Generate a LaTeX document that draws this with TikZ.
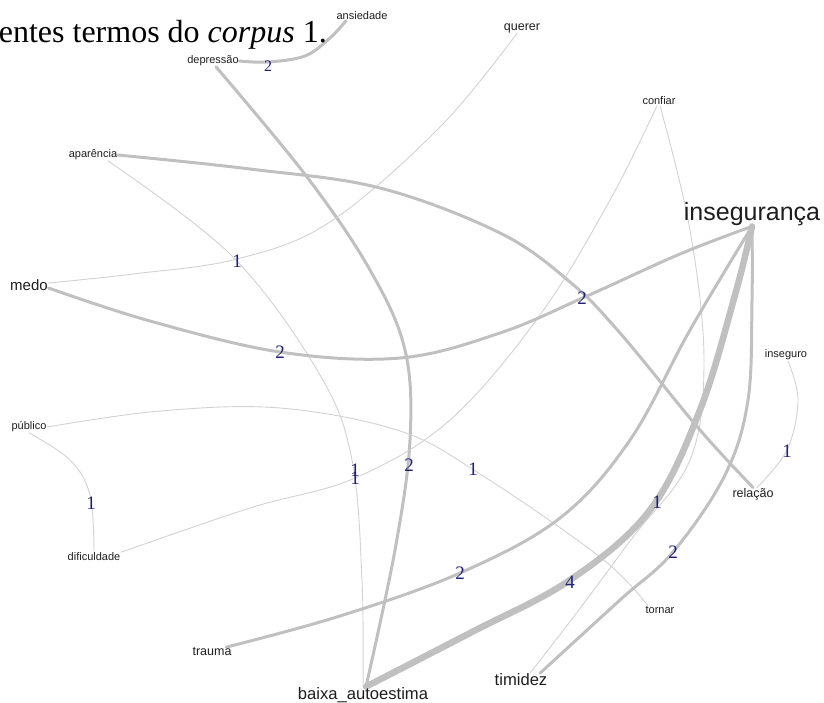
\documentclass[tikz,border=0pt]{standalone}
\usepackage{fontspec}
\setmainfont{Liberation Serif}
\newfontfamily\labf{Liberation Sans}
\newfontfamily\numf{Liberation Serif}
\usetikzlibrary{backgrounds}
\definecolor{navy}{RGB}{32,32,120}
\definecolor{edgethin}{RGB}{210,210,210}
\definecolor{edgethick}{RGB}{192,192,192}
\definecolor{labtext}{RGB}{30,30,30}
\tikzset{
  lbl/.style={font=\labf\fontsize{11}{12}\selectfont, text=labtext, inner sep=0.5pt},
  lblq/.style={font=\labf\fontsize{12.5}{13}\selectfont, text=labtext, inner sep=0.5pt},
  lblm/.style={font=\labf\fontsize{15}{16}\selectfont, text=labtext, inner sep=0.5pt},
  lblb/.style={font=\labf\fontsize{16.6}{17}\selectfont, text=labtext, inner sep=0.5pt},
  lblL/.style={font=\labf\fontsize{25}{26}\selectfont, text=labtext, inner sep=0.5pt},
  num/.style={font=\numf\fontsize{19}{19}\selectfont, text=navy, inner sep=0pt},
  nums/.style={font=\numf\fontsize{16}{16}\selectfont, text=navy, inner sep=0pt},
  wone/.style={draw=edgethin, line width=0.9pt, line cap=round},
  wtwo/.style={draw=edgethick, line width=3pt, line cap=round},
  wfour/.style={draw=edgethick, line width=6.5pt, line cap=round},
  sm/.style={smooth, tension=0.6},
}
\begin{document}
\begin{tikzpicture}[x=1pt,y=-1pt]
\useasboundingbox (0,0) rectangle (824,703);
% title
\node[anchor=base east, font=\fontsize{32}{33}\selectfont, inner sep=0pt] (title) at (327,43) {entes termos do \textit{corpus} 1.};
% nodes
\node[lbl]  (ans)  at (362,16)  {ansiedade};
\node[lbl]  (dep)  at (213,61)  {depressão};
\node[lblq] (que)  at (522,28)  {querer};
\node[lbl]  (conf) at (659,101) {confiar};
\node[lbl]  (apar) at (93,155)  {aparência};
\node[lblL] (ins)  at (752,214) {insegurança};
\node[lblm] (medo) at (29,285)  {medo};
\node[lbl]  (isg)  at (786,355) {inseguro};
\node[lbl]  (pub)  at (29,427)  {público};
\node[lblq] (rel)  at (753,494) {relação};
\node[lbl]  (dif)  at (94,557)  {dificuldade};
\node[lbl]  (torn) at (660,610) {tornar};
\node[lblq] (trau) at (212,652) {trauma};
\node[lblb] (tim)  at (521,680) {timidez};
\node[lblb] (baixa) at (363,695) {baixa\_autoestima};
% edges
\begin{scope}[on background layer]
\draw[wtwo] plot[sm] coordinates {(dep.east) (268,62) (305,56) (330,38) ([xshift=10pt]ans.south west)};
\draw[wtwo] plot[sm] coordinates {([xshift=3pt]dep.south) (307,177) (370,270) (405,350) (410,440) (395,550) ([xshift=3pt]baixa.north)};
\draw[wone] plot[sm] coordinates {([xshift=-5pt]que.south) (440,127) (330,222) (237,259) (133,274) ([yshift=2pt]medo.east)};
\draw[wone] plot[sm] coordinates {([xshift=-10pt]apar.south east) (233,257) (320,375) (352,460) (362,580) (baixa.north)};
\draw[wone] plot[sm] coordinates {([xshift=-2pt]conf.south) (610,200) (540,315) (450,420) (355,478) (250,508) (dif.north east)};
\draw[wone] plot[sm] coordinates {([xshift=1pt]conf.south) (690,230) (704,360) (690,460) (633,537) (575,615) ([xshift=-18pt]tim.north east)};
\draw[wtwo] plot[sm] coordinates {([yshift=-3pt]medo.east) (150,321) (280,352) (400,358) (500,333) (587,296) (680,254) (ins.south)};
\draw[wtwo] plot[sm] coordinates {(apar.east) (250,169) (380,188) (500,233) (570,282) (620,333) (700,430) (rel.north)};
\draw[wone] plot[sm] coordinates {(pub.south) (70,460) (90,495) (dif.north)};
\draw[wone] plot[sm] coordinates {(pub.east) (160,411) (280,408) (400,431) (480,474) (600,557) ([xshift=3pt]torn.north west)};
\draw[wone] plot[sm] coordinates {([xshift=2pt]isg.south) (798,400) (787,450) ([xshift=4pt]rel.north)};
\draw[wtwo] plot[sm] coordinates {([xshift=-6pt]trau.north east) (340,616) (460,573) (560,518) (630,440) (690,330) (ins.south)};
\draw[wfour] plot[sm] coordinates {([xshift=3pt]baixa.north) (470,633) (570,580) (650,510) (700,410) (735,295) (ins.south)};
\draw[wtwo] plot[sm] coordinates {([xshift=-8pt]tim.north east) (620,600) (673,552) (725,475) (748,400) (752,300) (ins.south)};
\end{scope}
% edge weights
\node[nums] (l1)  at (268,66)  {2};
\node[num]  (l2)  at (409,465) {2};
\node[num]  (l3)  at (237,261) {1};
\node[num]  (l4)  at (355,470) {1};
\node[num]  (l5)  at (355,478) {1};
\node[num]  (l6)  at (657,502) {1};
\node[num]  (l7)  at (280,352) {2};
\node[num]  (l8)  at (582,298) {2};
\node[num]  (l9)  at (91,503)  {1};
\node[num]  (l10) at (473,469) {1};
\node[num]  (l11) at (787,451) {1};
\node[num]  (l12) at (460,573) {2};
\node[num]  (l13) at (570,582) {4};
\node[num]  (l14) at (673,552) {2};
\end{tikzpicture}
\end{document}
